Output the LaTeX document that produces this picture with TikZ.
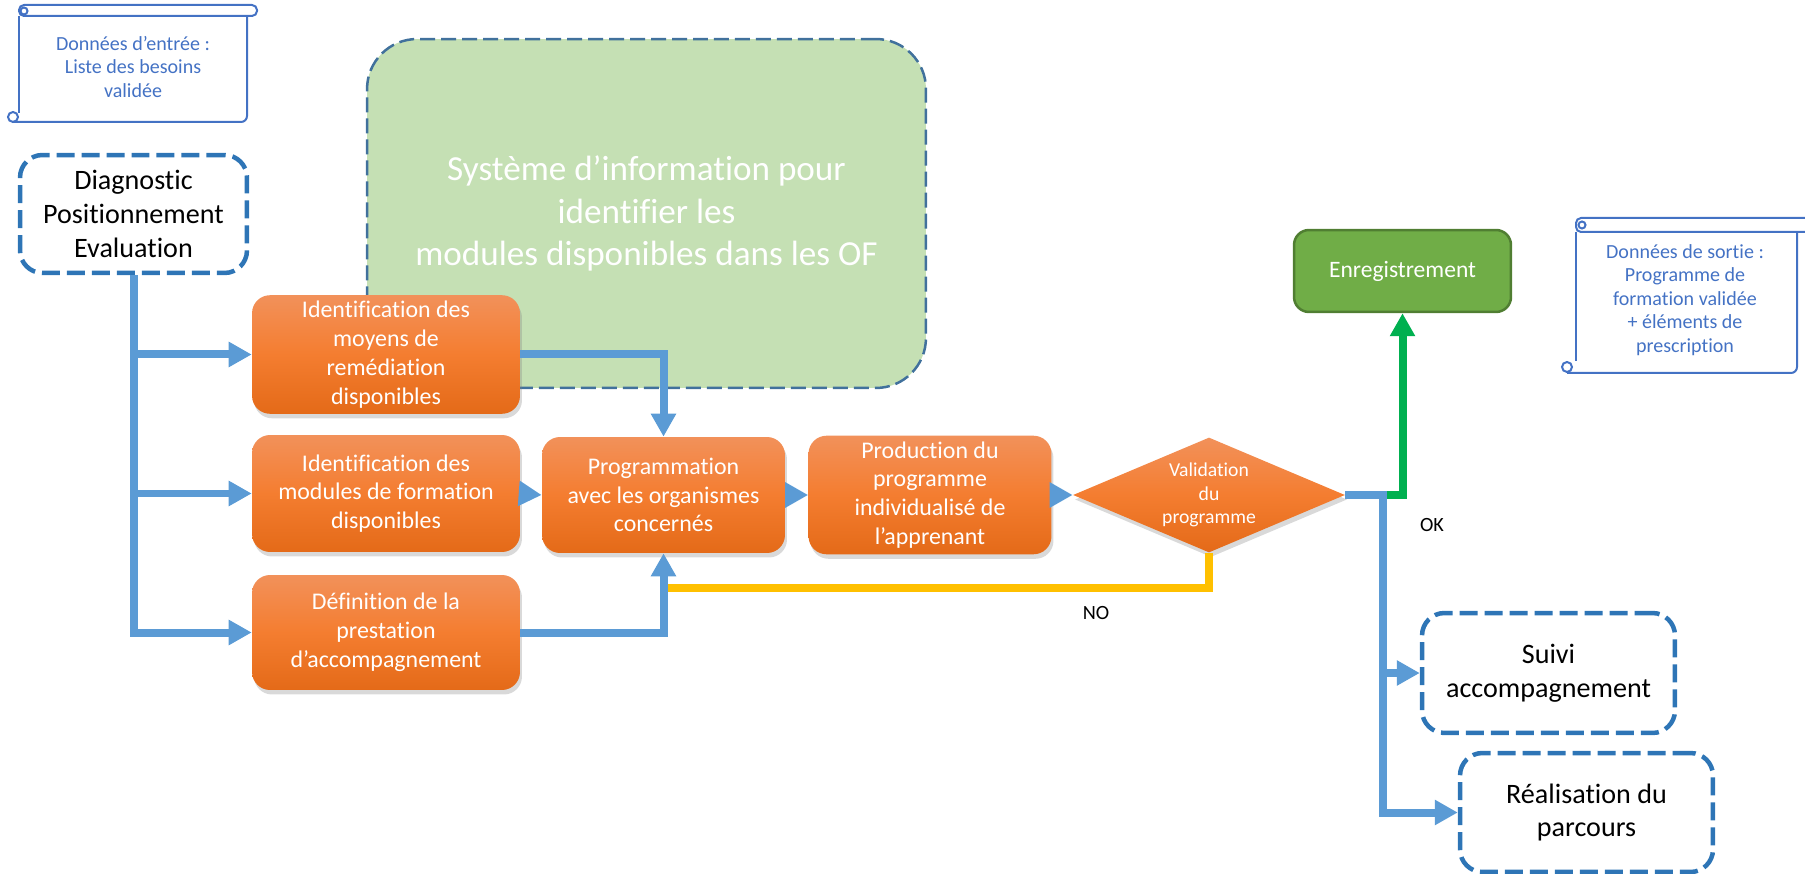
\documentclass[tikz,border=0pt]{standalone}
\usepackage{fontspec}
\setmainfont{Carlito}[Ligatures=NoCommon]
\usetikzlibrary{arrows.meta,shapes.geometric,shadows}
\definecolor{bleulien}{HTML}{5B9BD5}
\definecolor{bleucadre}{HTML}{2E75B6}
\definecolor{bleuscroll}{HTML}{4472C4}
\definecolor{bordsys}{HTML}{41719C}
\definecolor{fondsys}{HTML}{C5E0B4}
\definecolor{fondenreg}{HTML}{70AD47}
\definecolor{bordenreg}{HTML}{507E32}
\definecolor{vertok}{HTML}{00B050}
\definecolor{jauneno}{HTML}{FFC000}
\definecolor{orhaut}{HTML}{F2915A}
\definecolor{ormilieu}{HTML}{F47D30}
\definecolor{orbas}{HTML}{E46A18}
\tikzset{
  etape/.style={rounded corners=0.36cm, minimum width=5.36cm, minimum height=2.34cm,
    top color=orhaut, bottom color=orbas, middle color=ormilieu, text=white, align=center,
    font=\fontsize{13.6}{16.4}\selectfont,
    drop shadow={shadow xshift=0.4mm, shadow yshift=-0.9mm, opacity=0.3}},
  choix/.style={diamond, aspect=2.37, minimum width=5.44cm, minimum height=2.3cm, inner sep=0pt,
    top color=orhaut, bottom color=orbas, middle color=ormilieu, text=white, align=center,
    font=\fontsize{11.2}{13.4}\selectfont,
    drop shadow={shadow xshift=0.4mm, shadow yshift=-0.9mm, opacity=0.3}},
  cadre/.style={draw=bleucadre, line width=0.9mm, dash pattern=on 3.6mm off 1.4mm,
    rounded corners=0.45cm, align=center, font=\fontsize{16}{19.3}\selectfont},
  systeme/.style={draw=bordsys, line width=0.5mm, dash pattern=on 3mm off 1.2mm, fill=fondsys,
    rounded corners=1cm, minimum width=11.18cm, minimum height=6.98cm, text=white, align=center,
    font=\fontsize{20}{24.1}\selectfont},
  enregistre/.style={draw=bordenreg, line width=0.5mm, fill=fondenreg, rounded corners=0.3cm,
    minimum width=4.34cm, minimum height=1.64cm, text=white, font=\fontsize{13.4}{16}\selectfont},
  donnees/.style={text=bleuscroll, align=center, font=\fontsize{11.4}{13.4}\selectfont},
  rouleau/.style={draw=bleuscroll, line width=0.4mm},
  etiquette/.style={font=\fontsize{11.5}{14}\selectfont},
  trait/.style={draw=bleulien, line width=1.6mm},
  fleche/.style={trait, -{Triangle[length=4.6mm,width=4.8mm]}},
  flecheok/.style={draw=vertok, line width=1.6mm, -{Triangle[length=4.6mm,width=4.8mm]}},
  retourno/.style={draw=jauneno, line width=1.6mm}
}
\begin{document}
\begin{tikzpicture}[x=0.02cm, y=-0.02cm]
  \useasboundingbox (0,0) rectangle (1805,874);
  \draw[rouleau, rounded corners=1mm] (19,5) rectangle (257,16);
  \draw[rouleau] (24,11) circle (0.7mm);
  \draw[rouleau] (19,16) -- (19,113);
  \draw[rouleau, rounded corners=1.2mm] (13,122) -- (247,122) -- (247,16);
  \draw[rouleau] (13,117) circle (1mm);
  \draw[rouleau, rounded corners=1mm] (1576,218) rectangle (1815,232);
  \draw[rouleau] (1582,225) circle (0.7mm);
  \draw[rouleau] (1576,232) -- (1576,361);
  \draw[rouleau, rounded corners=1.2mm] (1567,373) -- (1797,373) -- (1797,232);
  \draw[rouleau] (1567,367) circle (1mm);
  \node[donnees] (entree) at (133,67) {Données d’entrée :\\Liste des besoins\\validée};
  \node[donnees] (sortie) at (1685,300) {Données de sortie :\\Programme de\\formation validée\\+ éléments de\\prescription};
  \node[systeme] (sysinfo) at (646.5,213.5) {Système d’information pour\\identifier les\\modules disponibles dans les OF};
  \node[cadre, minimum width=4.54cm, minimum height=2.36cm] (diag) at (133.5,214) {Diagnostic\\Positionnement\\Evaluation};
  \node[etape] (moyens) at (386,354.5) {Identification des\\moyens de\\remédiation\\disponibles};
  \node[etape] (modules) at (386,493.5) {Identification des\\modules de formation\\disponibles};
  \node[etape, minimum height=2.3cm] (prestation) at (386,632.5) {Définition de la\\prestation\\d’accompagnement};
  \node[etape, minimum width=4.86cm, minimum height=2.32cm] (prog) at (663.5,495) {Programmation\\avec les organismes\\concernés};
  \node[etape, minimum width=4.86cm, minimum height=2.32cm] (prod) at (930,495) {Production du\\programme\\individualisé de\\l’apprenant};
  \node[choix] (valid) at (1209,495) {Validation\\du\\programme};
  \node[enregistre] (enreg) at (1402.5,271) {Enregistrement};
  \node[cadre, minimum width=5.06cm, minimum height=2.4cm] (suivi) at (1548.5,673) {Suivi\\accompagnement};
  \node[cadre, minimum width=5.06cm, minimum height=2.38cm] (realis) at (1586.5,812.5) {Réalisation du\\parcours};
  \node[etiquette] (ok) at (1432,525) {OK};
  \node[etiquette] (no) at (1096,613) {NO};
  \coordinate (split) at (1383,495);
  \coordinate (retour) at (663.5,588);
  \draw[retourno] (valid.south) |- (retour);
  \draw[flecheok] (split) -| (enreg.south);
  \draw[fleche] (diag.south) |- (prestation.west);
  \draw[fleche] (diag.south |- moyens.west) -- (moyens.west);
  \draw[fleche] (diag.south |- modules.west) -- (modules.west);
  \draw[fleche] (moyens.east) -| (prog.north);
  \draw[fleche] (modules.east) -- (prog.west);
  \draw[fleche] (prestation.east) -| (prog.south);
  \draw[fleche] (prog.east) -- (prod.west);
  \draw[fleche] (prod.east) -- (valid.west);
  \draw[fleche] (valid.east) -- (split) |- (realis.west);
  \draw[fleche] (split |- suivi.west) -- (suivi.west);
\end{tikzpicture}
\end{document}
